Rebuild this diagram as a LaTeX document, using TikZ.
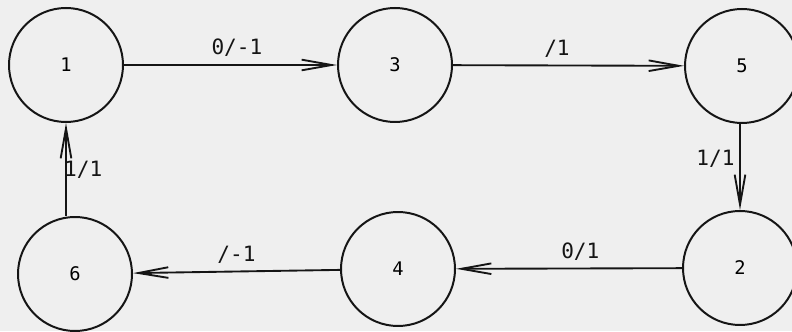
\documentclass[tikz,border=0pt]{standalone}
\usepackage{fontspec}
\setmonofont{DejaVu Sans Mono}
\usetikzlibrary{arrows.meta}
\definecolor{paper}{HTML}{EFEFEF}
\definecolor{ink}{HTML}{151515}

\begin{document}
\begin{tikzpicture}[
      state/.style={draw=ink, circle, line width=1.7pt, minimum size=3.42cm,
                    inner sep=0pt, font=\fontsize{16}{18}\selectfont\ttfamily},
      arr/.style={-{Straight Barb[length=0.9cm, width=0.32cm, line width=1.6pt]},
                  line width=1.6pt, color=ink},
      lbl/.style={font=\fontsize{18}{20}\selectfont\ttfamily, text=ink}
    ]
    % Page
    \fill[paper] (0,0) rectangle (23.76,9.93);
    \useasboundingbox (0,0) rectangle (23.76,9.93);

    % States, top row
    \node[state] (s1) at (1.98,7.98)  {1};
    \node[state] (s3) at (11.85,7.98) {3};
    \node[state] (s5) at (22.26,7.95) {5};

    % States, bottom row
    \node[state] (s6) at (2.25,1.71)  {6};
    \node[state] (s4) at (11.94,1.86) {4};
    \node[state] (s2) at (22.2,1.89)  {2};

    % Transitions
    \draw[arr] (s1) -- node[lbl, above=0.1cm, pos=0.53] {0/-1} (s3);
    \draw[arr] (s3) -- node[lbl, above=0.1cm, pos=0.45] {/1} (s5);
    \draw[arr] (s5.south -| s2.north) -- node[lbl, left=0.02cm, pos=0.4] {1/1} (s2.north);
    \draw[arr] (s2) -- node[lbl, above=0.1cm, pos=0.45] {0/1} (s4);
    \draw[arr] (s4) -- node[lbl, above=0.1cm] {/-1} (s6);
    \draw[arr] (s6.north -| s1.south) -- node[lbl, right=-0.2cm] {1/1} (s1.south);

  \end{tikzpicture}
\end{document}
